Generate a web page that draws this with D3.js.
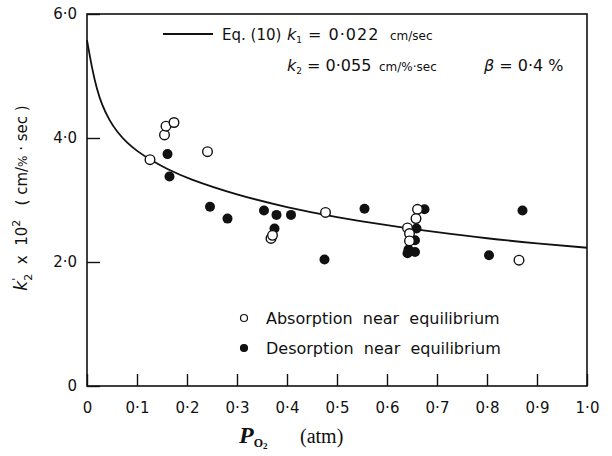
<!DOCTYPE html>
<html>
<head>
<meta charset="utf-8">
<script src="https://cdn.jsdelivr.net/npm/d3@7"></script>
<style>
  body { margin: 0; background: #fff; }
  svg { display: block; }
  text { fill: #111; }
</style>
</head>
<body>
<div id="chart"></div>
<script>
// absorption near equilibrium (open circles)
const absX = [0.126, 0.155, 0.158, 0.174, 0.241, 0.368, 0.371, 0.477, 0.661, 0.658, 0.641, 0.645, 0.645, 0.864];
const absY = [3.65, 4.05, 4.19, 4.25, 3.78, 2.38, 2.43, 2.80, 2.85, 2.70, 2.55, 2.46, 2.34, 2.03];

// desorption near equilibrium (filled circles)
const desX = [0.161, 0.165, 0.246, 0.281, 0.354, 0.379, 0.375, 0.408, 0.475, 0.555, 0.675, 0.659, 0.656, 0.643, 0.641, 0.656, 0.804, 0.871];
const desY = [3.74, 3.38, 2.89, 2.70, 2.83, 2.76, 2.54, 2.76, 2.04, 2.86, 2.85, 2.54, 2.35, 2.20, 2.14, 2.16, 2.11, 2.83];

// Eq. (10) curve
const curveX = [0, 0.01, 0.02, 0.03, 0.045, 0.06, 0.08, 0.1, 0.126, 0.16, 0.2, 0.3, 0.4, 0.5, 0.6, 0.7, 0.8, 0.9, 1.0];
const curveY = [5.58, 5.12, 4.78, 4.53, 4.28, 4.10, 3.92, 3.79, 3.65, 3.50, 3.35, 3.08, 2.88, 2.72, 2.59, 2.48, 2.38, 2.30, 2.23];

const xTicks = [0, 0.1, 0.2, 0.3, 0.4, 0.5, 0.6, 0.7, 0.8, 0.9, 1.0];
const xTickLabels = ["0", "0·1", "0·2", "0·3", "0·4", "0·5", "0·6", "0·7", "0·8", "0·9", "1·0"];
const yTicks = [0, 2, 4, 6];
const yTickLabels = ["0", "2·0", "4·0", "6·0"];

const width = 612, height = 456;
const margin = { left: 87, right: 25, top: 14, bottom: 70 };

const svg = d3.select("#chart").append("svg")
    .attr("width", width)
    .attr("height", height);

const x = d3.scaleLinear().domain([0, 1]).range([margin.left, width - margin.right]);
const y = d3.scaleLinear().domain([0, 6]).range([height - margin.bottom, margin.top]);

const tickFont = "'DejaVu Sans', sans-serif";

// frame
svg.append("rect")
    .attr("x", x(0)).attr("y", y(6))
    .attr("width", x(1) - x(0)).attr("height", y(0) - y(6))
    .attr("fill", "none").attr("stroke", "#111").attr("stroke-width", 1.6);

// x axis, ticks pointing inward
const xAxis = svg.append("g")
    .attr("transform", `translate(0,${y(0)})`)
    .call(d3.axisBottom(x).tickValues(xTicks).tickSizeInner(-12).tickSizeOuter(0).tickPadding(12)
      .tickFormat((d, i) => xTickLabels[i]));
xAxis.select(".domain").remove();
xAxis.selectAll("line").attr("stroke", "#111").attr("stroke-width", 1.4);
xAxis.selectAll("text")
    .attr("font-family", tickFont).attr("font-size", 15).attr("fill", "#111")
    .attr("y", 16).attr("dy", "0.71em");

const yAxis = svg.append("g")
    .attr("transform", `translate(${x(0)},0)`)
    .call(d3.axisLeft(y).tickValues(yTicks).tickSizeInner(-13).tickSizeOuter(0).tickPadding(10)
      .tickFormat((d, i) => yTickLabels[i]));
yAxis.select(".domain").remove();
yAxis.selectAll("line").attr("stroke", "#111").attr("stroke-width", 1.4);
yAxis.selectAll("text")
    .attr("font-family", tickFont).attr("font-size", 15).attr("fill", "#111")
    .attr("x", -10);

// curve
const line = d3.line()
    .x((d, i) => x(curveX[i]))
    .y((d, i) => y(curveY[i]))
    .curve(d3.curveBasis);

svg.append("path")
    .datum(curveX)
    .attr("d", line)
    .attr("fill", "none")
    .attr("stroke", "#111")
    .attr("stroke-width", 1.8);

// points
svg.append("g").selectAll("circle")
    .data(desX)
    .join("circle")
    .attr("cx", (d, i) => x(desX[i]))
    .attr("cy", (d, i) => y(desY[i]))
    .attr("r", 5)
    .attr("fill", "#111");

svg.append("g").selectAll("circle")
    .data(absX)
    .join("circle")
    .attr("cx", (d, i) => x(absX[i]))
    .attr("cy", (d, i) => y(absY[i]))
    .attr("r", 4.8)
    .attr("fill", "#fff")
    .attr("stroke", "#111")
    .attr("stroke-width", 1.4);

// top legend
svg.append("line")
    .attr("x1", 163).attr("x2", 213).attr("y1", 34).attr("y2", 34)
    .attr("stroke", "#111").attr("stroke-width", 1.8);

svg.append("text")
    .attr("x", 222).attr("y", 40)
    .attr("font-family", tickFont).attr("font-size", 15)
    .text("Eq. (10)");

const t1 = svg.append("text")
    .attr("x", 287).attr("y", 40)
    .attr("font-family", tickFont).attr("font-size", 16);
t1.append("tspan").attr("font-style", "italic").text("k");
t1.append("tspan").attr("font-size", 9).attr("dy", 3).text("1");
t1.append("tspan").attr("dy", -3).attr("letter-spacing", 1).text(" = 0·022");
t1.append("tspan").attr("x", 390).attr("font-size", 12).text("cm/sec");

const t2 = svg.append("text")
    .attr("x", 287).attr("y", 71)
    .attr("font-family", tickFont).attr("font-size", 16);
t2.append("tspan").attr("font-style", "italic").text("k");
t2.append("tspan").attr("font-size", 9).attr("dy", 3).text("2");
t2.append("tspan").attr("dy", -3).text(" = 0·055");
t2.append("tspan").attr("x", 379).attr("font-size", 12).text("cm/%·sec");
t2.append("tspan").attr("x", 484).attr("font-style", "italic").text("β");
t2.append("tspan").text(" = 0·4 %");

// bottom legend
const legendItems = [
  { label: "Absorption  near  equilibrium", fill: "#fff", yv: 318 },
  { label: "Desorption  near  equilibrium", fill: "#111", yv: 348 }
];
const lg = svg.append("g");
legendItems.forEach(item => {
  lg.append("circle")
      .attr("cx", 244).attr("cy", item.yv).attr("r", 3.5)
      .attr("fill", item.fill).attr("stroke", "#111").attr("stroke-width", 1.2);
  lg.append("text")
      .attr("x", 266).attr("y", item.yv).attr("dy", "0.35em")
      .attr("font-family", tickFont).attr("font-size", 16)
      .style("white-space", "pre")
      .text(item.label);
});

// x axis title
const xt = svg.append("text")
    .attr("x", 239).attr("y", 443)
    .attr("font-family", "'Liberation Serif', serif");
xt.append("tspan").attr("font-style", "italic").attr("font-weight", "bold").attr("font-size", 24).text("P");
xt.append("tspan").attr("font-weight", "bold").attr("font-size", 12).attr("dy", 4).text("O");
xt.append("tspan").attr("font-weight", "bold").attr("font-size", 9).attr("dy", 2).text("2");
xt.append("tspan").attr("x", 300).attr("dy", -6).attr("font-size", 20).text("(atm)");

// y axis title
const yt = svg.append("text")
    .attr("transform", "translate(27,198) rotate(-90)")
    .attr("text-anchor", "middle")
    .attr("font-family", tickFont).attr("font-size", 15)
    .style("white-space", "pre");
yt.append("tspan").attr("font-style", "italic").attr("font-size", 17).text("k");
yt.append("tspan").attr("font-size", 11).attr("dy", -7).text("'");
yt.append("tspan").attr("font-size", 11).attr("dx", -3).attr("dy", 12).text("2");
yt.append("tspan").attr("dy", -5).text("  x  10");
yt.append("tspan").attr("font-size", 11).attr("dy", -7).text("2");
yt.append("tspan").attr("dy", 7).text("   ( cm/");
yt.append("tspan").attr("font-size", 12).text("%");
yt.append("tspan").text(" · sec )");
</script>
</body>
</html>
